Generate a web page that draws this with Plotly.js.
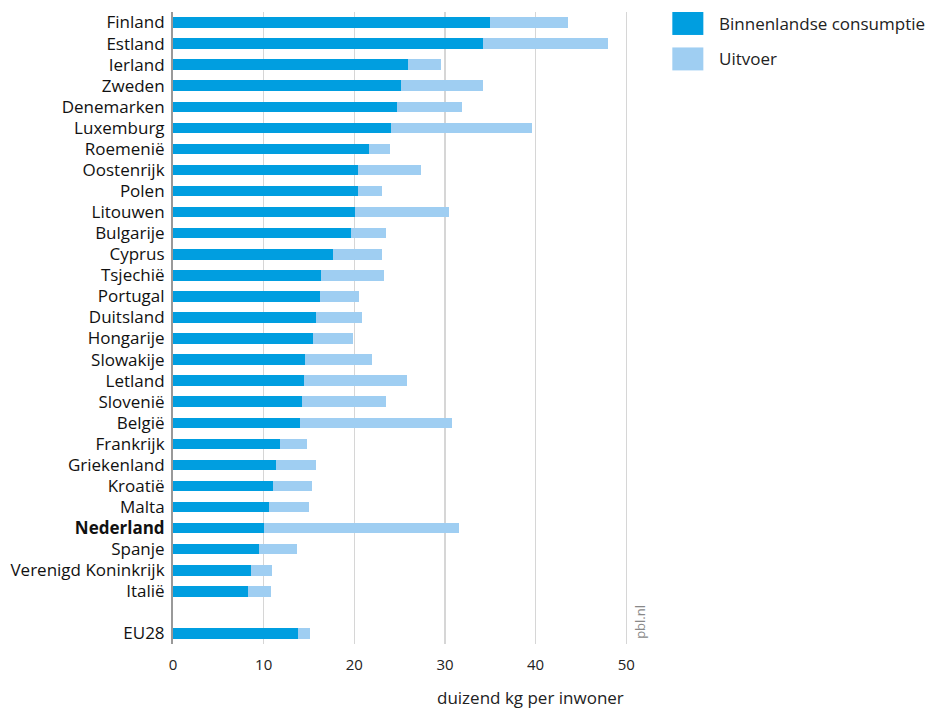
<!DOCTYPE html>
<html><head><meta charset="utf-8">
<script src="https://cdn.plot.ly/plotly-3.0.1.min.js"></script>
<style>body{margin:0;background:#fff}#chart{width:928px;height:708px}</style>
</head><body><div id="chart"></div>
<script>
const countries = ["Finland","Estland","Ierland","Zweden","Denemarken","Luxemburg","Roemenië","Oostenrijk","Polen","Litouwen","Bulgarije","Cyprus","Tsjechië","Portugal","Duitsland","Hongarije","Slowakije","Letland","Slovenië","België","Frankrijk","Griekenland","Kroatië","Malta","<b>Nederland</b>","Spanje","Verenigd Koninkrijk","Italië"," ","EU28"];
const binnenlands = [35.0,34.2,25.9,25.2,24.7,24.1,21.6,20.4,20.4,20.1,19.6,17.7,16.3,16.2,15.8,15.4,14.6,14.5,14.2,14.0,11.8,11.4,11.0,10.6,10.0,9.5,8.6,8.3,null,13.8];
const uitvoer = [8.6,13.8,3.7,9.0,7.2,15.5,2.3,7.0,2.7,10.3,3.9,5.4,7.0,4.3,5.0,4.5,7.3,11.3,9.3,16.8,3.0,4.4,4.3,4.4,21.5,4.2,2.3,2.5,null,1.3];
const xTicks = [0,10,20,30,40,50];
const seriesNames = ["Binnenlandse consumptie","Uitvoer"];
const colors = ["#009EE0","#9FCEF2"];

const FONT = "'Open Sans', sans-serif";
const traces = [
  {type:"bar", orientation:"h", y:countries, x:binnenlands, name:seriesNames[0], marker:{color:colors[0]}, width:0.5, showlegend:false, hoverinfo:"x+y"},
  {type:"bar", orientation:"h", y:countries, x:uitvoer, name:seriesNames[1], marker:{color:colors[1]}, width:0.5, showlegend:false, hoverinfo:"x+y"}
];
const legendShapes = [];
const legendAnn = [];
seriesNames.forEach((n,i)=>{
  legendShapes.push({type:"rect", xref:"paper", yref:"paper", x0:(672-173)/455.7, x1:(703-173)/455.7, y0:1-(0+i*35.5)/633, y1:1-(23+i*35.5)/633, fillcolor:colors[i], line:{width:0}, layer:"above"});
  legendAnn.push({xref:"paper", yref:"paper", x:(717-173)/455.7, y:1-(11.5+i*35.5)/633, xanchor:"left", yanchor:"middle", text:n, showarrow:false, font:{size:17, color:"#222"}});
});
const layout = {
  width:928, height:708,
  margin:{l:173, r:299.3, t:11.5, b:63.5},
  barmode:"stack", bargap:0.5,
  font:{family:FONT, size:16, color:"#111"},
  paper_bgcolor:"#fff", plot_bgcolor:"#fff",
  xaxis:{range:[0,50.3], tickvals:xTicks, ticktext:xTicks.map(String), showgrid:true, gridcolor:"#d6d6d6", gridwidth:1.3,
         zeroline:false, showline:false, ticks:"", ticklabelstandoff:10, tickfont:{size:15, color:"#222"}, fixedrange:true},
  yaxis:{type:"category", categoryorder:"array", categoryarray:countries, autorange:"reversed",
         showline:true, linecolor:"#999", linewidth:2, showgrid:false, ticks:"", ticklabelstandoff:3,
         tickfont:{size:17, color:"#111"}, fixedrange:true},
  shapes: legendShapes,
  annotations: legendAnn.concat([
    {xref:"x", yref:"paper", x:50, y:-0.063, xanchor:"right", yanchor:"top", text:"duizend kg per inwoner", showarrow:false, font:{size:17, color:"#222"}},
    {xref:"paper", yref:"paper", x:1.0, y:0.005, xanchor:"left", yanchor:"bottom", text:"pbl.nl", textangle:-90, showarrow:false, font:{size:13, color:"#888"}}
  ])
};
Plotly.newPlot("chart", traces, layout, {displayModeBar:false, staticPlot:true});
</script></body></html>
